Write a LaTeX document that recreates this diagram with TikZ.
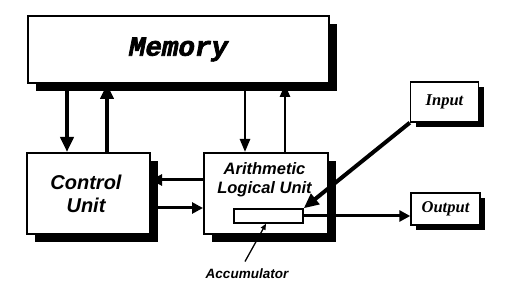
\documentclass[tikz,border=0pt]{standalone}
\usepackage{fontspec}
\setmainfont{Liberation Serif}
\newfontfamily\memfont[FakeBold=2.5]{Liberation Mono Bold Italic}
\newfontfamily\helvbf{Liberation Sans}
\usetikzlibrary{arrows.meta}
\begin{document}
\begin{tikzpicture}[x=1pt,y=-1pt,
  bigbox/.style={draw=black,line width=2pt,fill=white},
  smallbox/.style={draw=black,line width=1.4pt,fill=white},
  shade box/.style={fill=black,draw=none},
  heavy/.style={line width=4pt,-{Triangle[length=15pt,width=13pt]}},
  light/.style={line width=2.5pt,-{Triangle[length=13pt,width=10pt]}},
  medium/.style={line width=3pt,-{Triangle[length=11pt,width=11pt]}},
  thin/.style={line width=1.3pt,-{Triangle[length=6pt,width=5pt]}},
  sanslabel/.style={font=\helvbf\bfseries\itshape,align=center}]
\useasboundingbox (0,0) rectangle (512,304);

% solid drop shadows, laid down before the boxes
\path[shade box] (36,24) rectangle (337,91);
\path[shade box] (35,161) rectangle (158,242);
\path[shade box] (212,161) rectangle (336,242);
\path[shade box] (415.5,87) rectangle (483.5,127);
\path[shade box] (416,198) rectangle (485,230);

% main units
\node[bigbox,minimum width=301pt,minimum height=67pt] (mem) at (178.5,49.5)
  {\memfont\fontsize{27.5}{27.5}\selectfont Memory};
\node[bigbox,minimum width=123pt,minimum height=81pt] (cu) at (88.5,193.5) {};
\node[sanslabel,font=\helvbf\bfseries\itshape\fontsize{20}{23}\selectfont] (cutext) at (86,194) {Control\\Unit};
\node[bigbox,minimum width=124pt,minimum height=81pt] (alu) at (266,193.5) {};
\node[sanslabel,font=\helvbf\bfseries\itshape\fontsize{16.5}{19}\selectfont] (alutext) at (264.5,180) {Arithmetic\\Logical Unit};
\node[draw=black,line width=1.4pt,fill=white,minimum width=69pt,minimum height=14pt,inner sep=0pt] (acc) at (268.5,216) {};

% input and output devices
\node[smallbox,minimum width=68pt,minimum height=40pt] (inp) at (444.5,102)
  {\fontsize{16.5}{16.5}\selectfont\bfseries\itshape Input};
\node[smallbox,minimum width=69pt,minimum height=32pt] (out) at (445.5,209)
  {\fontsize{16.5}{16.5}\selectfont\bfseries\itshape Output};

\node[sanslabel,font=\helvbf\bfseries\itshape\fontsize{13.5}{13.5}\selectfont] (acclabel) at (247,274) {Accumulator};

% memory traffic
\draw[heavy] ([xshift=40pt]mem.south west) -- ([xshift=41pt]cu.north west);
\draw[heavy] ([xshift=81pt]cu.north west) -- ([xshift=80pt]mem.south west);
\draw[light] ([xshift=218pt]mem.south west) -- ([xshift=42pt]alu.north west);
\draw[light] ([xshift=82pt]alu.north west) -- ([xshift=258pt]mem.south west);

% control unit <-> ALU
\draw[medium] ([yshift=13.5pt]alu.west) -- ([yshift=13.5pt]cu.east);
\draw[medium] ([yshift=-14.5pt]cu.east) -- ([yshift=-14.5pt]alu.west);

% accumulator connections
\draw[heavy] (inp.south west) -- (acc.north east);
\draw[medium] (acc.east) -- (acc.east -| out.west);
\draw[thin] ([xshift=-2pt,yshift=4pt]acclabel.north) -- ([xshift=-2.5pt]acc.south);
\end{tikzpicture}
\end{document}
